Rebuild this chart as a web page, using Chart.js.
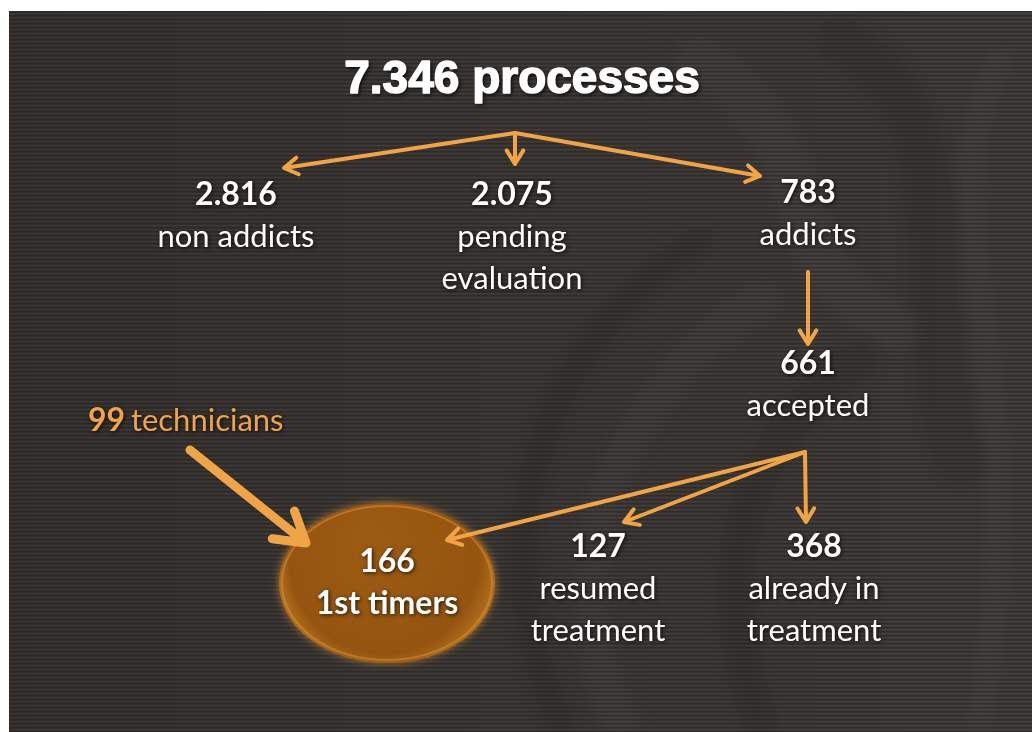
<!DOCTYPE html>
<html>
<head>
<meta charset="utf-8">
<script src="https://cdn.jsdelivr.net/npm/chart.js@4"></script>
<style>
  html, body { margin: 0; padding: 0; background: #ffffff; }
  canvas { display: block; }
</style>
</head>
<body>
<canvas id="flowChart" width="1032" height="732"></canvas>
<script>
// flow data
const totalProcesses = 7346;
const technicians = 99;
const nodeCounts = [2816, 2075, 783, 661, 166, 127, 368];
const nodeLabels = [['non addicts'], ['pending', 'evaluation'], ['addicts'], ['accepted'], ['1st timers'], ['resumed', 'treatment'], ['already in', 'treatment']];
// arrows: [from, to] ; 'root' = total, 'split' = below accepted
const links = [['root', 0], ['root', 1], ['root', 2], [2, 3], ['split', 4], ['split', 5], ['split', 6]];

// layout (slide units, same as the hidden axes)
const nodeX = [236, 512, 808, 808, 387, 598, 814];
const nodeY = [195, 195, 193, 364, 562, 547, 547];
const arrowTips = [[284, 168], [515, 164], [760, 176], [808, 344], [447, 540], [624, 522], [806, 522]];
const arrowStarts = { root: [515, 133], split: [805, 452], 2: [808, 272] };

const fmt = n => n >= 1000 ? Math.floor(n / 1000) + '.' + String(n % 1000).padStart(3, '0') : String(n);

const ORANGE = '#f0a446';
const BODY_FONT = 'Lato, "Open Sans", sans-serif';

const backdrop = {
  id: 'backdrop',
  beforeDraw(chart) {
    const { ctx } = chart;
    const x = chart.scales.x, y = chart.scales.y;
    const L = x.getPixelForValue(9), T = y.getPixelForValue(11);
    const R = x.getPixelForValue(1032), B = y.getPixelForValue(732);
    ctx.save();
    ctx.fillStyle = '#ffffff';
    ctx.fillRect(0, 0, chart.width, chart.height);
    const g = ctx.createLinearGradient(L, 0, R, 0);
    g.addColorStop(0, '#34302d');
    g.addColorStop(0.5, '#393532');
    g.addColorStop(1, '#3d3936');
    ctx.fillStyle = g;
    ctx.fillRect(L, T, R - L, B - T);
    ctx.beginPath();
    ctx.rect(L, T, R - L, B - T);
    ctx.clip();
    // faint sculpture shapes on the right
    ctx.lineCap = 'round';
    const swirls = [
      [[560, 720], [470, 520], [560, 330], [700, 240]],
      [[620, 720], [540, 540], [640, 380], [760, 300]],
      [[840, 40], [980, 120], [900, 300], [960, 460]],
      [[1000, 60], [920, 220], [1040, 360], [980, 720]],
      [[760, 720], [700, 560], [760, 420], [860, 360]],
      [[700, 60], [840, 160], [760, 260], [900, 330]]
    ];
    ctx.filter = 'blur(6px)';
    swirls.forEach((s, i) => {
      ctx.strokeStyle = i % 2 ? 'rgba(120,115,110,0.08)' : 'rgba(20,18,16,0.12)';
      ctx.lineWidth = 28 + (i % 3) * 10;
      ctx.beginPath();
      ctx.moveTo(s[0][0], s[0][1]);
      ctx.bezierCurveTo(s[1][0], s[1][1], s[2][0], s[2][1], s[3][0], s[3][1]);
      ctx.stroke();
    });
    ctx.filter = 'none';
    // horizontal scan stripes
    for (let yy = T; yy < B; yy += 4) {
      ctx.fillStyle = 'rgba(0,0,0,0.18)';
      ctx.fillRect(L, yy, R - L, 1.5);
      ctx.fillStyle = 'rgba(255,255,255,0.035)';
      ctx.fillRect(L, yy + 2, R - L, 1);
    }
    ctx.restore();
  }
};

function drawArrow(ctx, x1, y1, x2, y2, w, head) {
  const a = Math.atan2(y2 - y1, x2 - x1);
  ctx.lineWidth = w;
  ctx.beginPath();
  ctx.moveTo(x1, y1);
  ctx.lineTo(x2, y2);
  ctx.moveTo(x2 - head * Math.cos(a - 0.55), y2 - head * Math.sin(a - 0.55));
  ctx.lineTo(x2, y2);
  ctx.lineTo(x2 - head * Math.cos(a + 0.55), y2 - head * Math.sin(a + 0.55));
  ctx.stroke();
}

const flowDraw = {
  id: 'flowDraw',
  afterDatasetsDraw(chart) {
    const { ctx } = chart;
    const px = v => chart.scales.x.getPixelForValue(v);
    const py = v => chart.scales.y.getPixelForValue(v);
    const meta = chart.getDatasetMeta(0);
    ctx.save();

    // 1st timers ellipse
    const c = meta.data[4];
    ctx.save();
    ctx.shadowColor = 'rgba(240,160,60,0.6)';
    ctx.shadowBlur = 8;
    const eg = ctx.createRadialGradient(c.x - 20, c.y - 20, 10, c.x, c.y, 110);
    eg.addColorStop(0, '#9c5b12');
    eg.addColorStop(0.85, '#955511');
    eg.addColorStop(1, '#b06d1c');
    ctx.fillStyle = eg;
    ctx.beginPath();
    ctx.ellipse(c.x, c.y + 21, 108, 80, 0, 0, Math.PI * 2);
    ctx.fill();
    ctx.restore();
    ctx.strokeStyle = 'rgba(230,150,60,0.45)';
    ctx.lineWidth = 2;
    ctx.beginPath();
    ctx.ellipse(c.x, c.y + 21, 105, 77, 0, 0, Math.PI * 2);
    ctx.stroke();

    // arrows
    ctx.strokeStyle = ORANGE;
    ctx.lineCap = 'round';
    ctx.lineJoin = 'round';
    links.forEach((lk, i) => {
      const s = arrowStarts[lk[0]];
      const t = arrowTips[i];
      drawArrow(ctx, px(s[0]), py(s[1]), px(t[0]), py(t[1]), 4, 16);
    });
    // technicians arrow
    drawArrow(ctx, px(190), py(450), px(306), py(543), 9, 34);

    // title
    ctx.textAlign = 'center';
    ctx.textBaseline = 'middle';
    ctx.shadowColor = 'rgba(0,0,0,0.8)';
    ctx.shadowBlur = 4;
    ctx.shadowOffsetX = 2;
    ctx.shadowOffsetY = 2;
    ctx.fillStyle = '#ffffff';
    ctx.strokeStyle = '#ffffff';
    ctx.lineWidth = 1.5;
    ctx.font = 'bold 46px "Liberation Sans", Arial, sans-serif';
    ctx.fillText(fmt(totalProcesses) + ' processes', px(522), py(80));
    ctx.shadowColor = 'transparent';
    ctx.strokeText(fmt(totalProcesses) + ' processes', px(522), py(80));
    ctx.shadowColor = 'rgba(0,0,0,0.8)';
    ctx.shadowOffsetX = 1;
    ctx.shadowOffsetY = 1;

    // nodes
    meta.data.forEach((pt, i) => {
      ctx.fillStyle = '#ffffff';
      ctx.font = 'bold 32px ' + BODY_FONT;
      ctx.fillText(fmt(nodeCounts[i]), pt.x, pt.y);
      ctx.font = (i === 4 ? 'bold 32px ' : '31px ') + BODY_FONT;
      nodeLabels[i].forEach((ln, k) => ctx.fillText(ln, pt.x, pt.y + 42 * (k + 1)));
    });

    // technicians label
    ctx.textAlign = 'left';
    ctx.fillStyle = ORANGE;
    ctx.font = 'bold 32px ' + BODY_FONT;
    const num = String(technicians);
    const nx = px(88);
    ctx.fillText(num, nx, py(421));
    const w = ctx.measureText(num + ' ').width;
    ctx.font = '31px ' + BODY_FONT;
    ctx.fillText('technicians', nx + w - 2, py(421));
    ctx.restore();
  }
};

new Chart(document.getElementById('flowChart'), {
  type: 'scatter',
  data: {
    datasets: [{
      label: 'nodes',
      data: nodeX.map((xv, i) => ({ x: xv, y: nodeY[i] })),
      pointRadius: 0
    }]
  },
  options: {
    responsive: false,
    animation: false,
    devicePixelRatio: 1,
    layout: { padding: 0 },
    plugins: { legend: { display: false }, tooltip: { enabled: false } },
    scales: {
      x: { type: 'linear', min: 0, max: 1032, display: false },
      y: { type: 'linear', min: 0, max: 732, reverse: true, display: false }
    }
  },
  plugins: [backdrop, flowDraw]
});
</script>
</body>
</html>
